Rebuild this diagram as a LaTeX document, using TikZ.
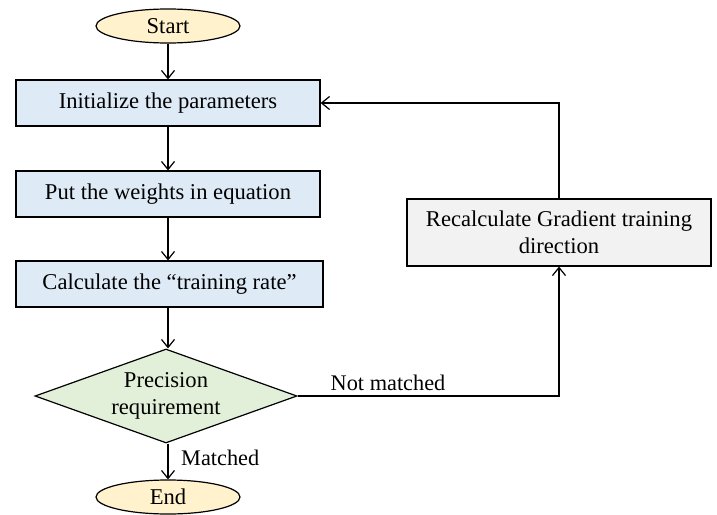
\documentclass[tikz,border=0pt]{standalone}
\usepackage{fontspec}
\setmainfont{Liberation Serif}
\usetikzlibrary{shapes.geometric,arrows.meta}
\definecolor{termfill}{HTML}{FFF2CC}
\definecolor{procfill}{HTML}{DEEBF7}
\definecolor{decfill}{HTML}{E2F0D9}
\definecolor{grayfill}{HTML}{F2F2F2}
\begin{document}
\begin{tikzpicture}[x=1pt,y=-1pt,
  every node/.style={font=\fontsize{22.6}{26.5}\selectfont, inner sep=0pt},
  term/.style={ellipse, draw, line width=1.2pt, fill=termfill, minimum width=144pt, minimum height=34pt},
  proc/.style={rectangle, draw, line width=1.2pt, fill=procfill, minimum width=304pt, minimum height=46pt},
  dec/.style={diamond, draw, line width=1.2pt, fill=decfill, aspect=2.8, minimum width=262pt, minimum height=94pt, align=center},
  grbox/.style={rectangle, draw, line width=1.2pt, fill=grayfill, minimum width=304pt, minimum height=67pt, align=center},
  lbl/.style={font=\fontsize{22.3}{26}\selectfont},
  conn/.style={line width=1.2pt, -{Straight Barb[length=8pt,width=13pt,line width=1.2pt]}}]
\useasboundingbox (0,0) rectangle (717,514);
\node[term] (start) at (168,26) {Start};
\node[proc] (init) at (168,103) {Initialize the parameters};
\node[proc] (put) at (168,194) {Put the weights in equation};
\node[proc, minimum width=307pt] (calc) at (169.5,284) {Calculate the ``training rate''};
\node[dec] (prec) at (166,396) {Precision\\requirement};
\node[term] (end) at (168,497) {End};
\node[grbox] (recalc) at (559,232.5) {Recalculate Gradient training\\direction};
\coordinate (c1) at (559,396);
\coordinate (c2) at (559,103);
\draw[conn] (start) -- (init);
\draw[conn] (init) -- (put);
\draw[conn] (put) -- (put |- calc.north);
\draw[conn] (calc.south -| put) -- (prec.north -| put);
\draw[conn] (prec.south -| put) -- (end);
\draw[conn] (prec.east) -- (c1) -- (recalc.south);
\draw[conn] (recalc.north) -- (c2) -- (init.east);
\node[lbl, anchor=west] at (181,458) {Matched};
\node[lbl, anchor=south] at (388,391) {Not matched};
\end{tikzpicture}
\end{document}
